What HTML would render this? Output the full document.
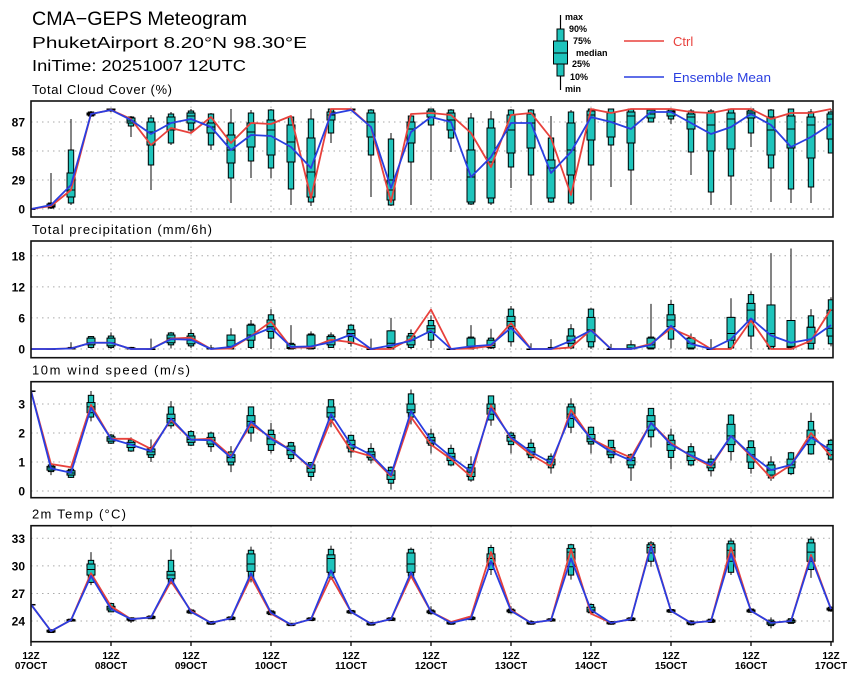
<!DOCTYPE html>
<html><head><meta charset="utf-8"><style>
html,body{margin:0;padding:0;background:#fff;}
svg{display:block;font-family:"Liberation Sans",sans-serif;}
</style></head><body>
<svg id="chart" width="860" height="680" viewBox="0 0 860 680">
<text x="32" y="25" font-size="19" textLength="215" lengthAdjust="spacingAndGlyphs">CMA−GEPS Meteogram</text>
<text x="32" y="48" font-size="16" textLength="275" lengthAdjust="spacingAndGlyphs">PhuketAirport 8.20°N 98.30°E</text>
<text x="32" y="71" font-size="16" textLength="214" lengthAdjust="spacingAndGlyphs">IniTime: 20251007 12UTC</text>
<g font-weight="bold" font-size="9">
<line x1="560.5" y1="15" x2="560.5" y2="90" stroke="#000" stroke-width="1.2"/>
<rect x="557" y="29" width="7" height="47" fill="#1fc4bc" stroke="#000"/>
<rect x="553.5" y="41" width="14" height="23" fill="#1fc4bc" stroke="#000"/>
<line x1="553.5" y1="53" x2="567.5" y2="53" stroke="#000"/>
<text x="565" y="20">max</text><text x="569" y="32">90%</text><text x="573" y="44">75%</text>
<text x="576" y="56">median</text><text x="572" y="67">25%</text><text x="570" y="80">10%</text><text x="565" y="92">min</text>
<line x1="624" y1="41" x2="664" y2="41" stroke="#e8413c" stroke-width="1.6"/>
<text x="673" y="46" font-size="13" font-weight="normal" fill="#e8413c">Ctrl</text>
<line x1="624" y1="77" x2="664" y2="77" stroke="#2a3ee0" stroke-width="1.6"/>
<text x="673" y="82" font-size="13" font-weight="normal" fill="#2a3ee0" textLength="98" lengthAdjust="spacingAndGlyphs">Ensemble Mean</text>
</g>
</svg>
<script>
const cloudCtrl=[0,3,19,95,99,90,64,81,76,92,66,86,85,93,11,100,100,82,7,95,96,94,76,42,94,96,71,14,100,96,100,100,100,97,96,100,100,90,96,96,100];
const cloudMean=[0,4,24,95,99,89,75,86,90,82,59,74,73,62,41,95,99,82,21,77,92,87,32,52,86,86,36,57,92,87,80,97,97,86,75,82,95,84,62,72,85];
const cloudBox=[[0,0,0,0,0,0,0],[0,1,2,3,5,6,36],[4,6,12,19,36,59,90],[92,93,94,95,96,97,98],[97,98,99,99,100,100,100],[72,83,86,88,91,92,93],[19,44,64,77,87,91,94],[64,66,79,86,92,95,97],[77,79,86,93,96,98,100],[59,64,76,82,86,95,96],[6,31,46,59,74,86,100],[31,48,62,77,86,96,99],[31,41,54,79,89,99,100],[4,20,47,67,84,92,92],[3,7,12,37,71,90,100],[66,76,89,94,97,100,100],[98,99,99,100,100,100,100],[12,54,72,87,96,99,100],[3,4,9,19,29,70,76],[4,47,66,80,87,93,94],[29,84,92,96,98,100,100],[57,71,79,89,96,99,100],[4,5,7,32,59,91,96],[4,6,11,47,81,90,98],[21,42,56,79,94,99,100],[4,34,61,86,95,99,100],[6,7,11,41,49,71,93],[4,6,34,59,86,97,99],[9,44,69,94,98,100,100],[22,64,72,87,96,100,100],[4,39,66,93,97,100,100],[87,87,91,95,99,100,100],[85,90,93,97,98,100,100],[34,57,80,92,95,98,100],[4,17,58,84,96,98,100],[4,33,60,90,96,100,100],[62,76,91,96,98,100,100],[7,41,54,79,92,99,100],[6,20,61,80,93,100,100],[6,22,51,84,92,97,100],[56,56,70,90,95,97,100]];
const precipCtrl=[0,0,0.1,1.2,1.2,0,0,2.0,2.2,0,0.1,2.5,5.3,0.3,0.3,1.8,1.3,0,0,2.0,7.6,0,0.1,0.6,5.0,0,0,0.3,3.7,0,0,1.0,4.0,2.3,0,0,5.5,0,0,1.6,7.7];
const precipMean=[0,0,0.1,1.2,1.2,0,0,1.9,1.8,0,0.4,2.5,4.1,0.4,0.5,1.3,2.8,0,0.7,1.6,3.5,0,0.5,0.8,4.1,0,0,1.6,3.6,0,0,0.8,4.5,1.0,0,1.9,5.9,2.6,1.2,1.9,4.6];
const precipBox=[[0,0,0,0,0,0,0],[0,0,0,0,0,0,0],[0,0,0,0.1,0.2,0.3,1.3],[0.1,0.3,0.8,1.2,2.1,2.4,2.5],[0,0.3,0.6,1.2,2.1,2.5,3.2],[0,0,0,0,0.2,0.3,0.4],[0,0,0,0,0,0,2],[0.1,0.8,1.2,2.1,2.7,3.1,3.3],[0.2,0.6,1,1.7,2.5,3,3.8],[0,0,0,0,0.1,0.2,0.8],[0,0,0.5,1.7,2.7,2.7,4],[0,0.3,1.7,2.7,4.6,4.8,5.6],[0,2.1,3.4,4.3,5.6,6.6,7.7],[0,0,0.1,0.3,0.9,1.1,4.6],[0,0,0.1,0.4,2.7,2.9,3.4],[0.2,0.3,0.8,1.7,2.4,2.7,3.2],[0.5,1.1,2.4,3,3.7,4.6,4.8],[0,0,0,0,0,0.1,2],[0,0,0.3,1.1,3.5,3.5,6],[0,0.3,0.8,1.7,2.5,3,3.8],[0.2,1.7,3.2,3.9,4.5,5.5,6.5],[0,0,0,0,0,0,0],[0,0,0.3,0.5,2.1,2.3,4.6],[0,0.2,0.3,0.7,1.7,2.1,3.9],[0.5,1.4,4.3,5.3,6.3,7.7,8.3],[0,0,0,0,0,0,1.1],[0,0,0,0,0.1,0.3,1.9],[0,0.2,1.1,1.7,2.5,3.9,4.8],[0,0.4,1.4,3.7,6.1,7.7,7.9],[0,0,0,0,0,0.1,1],[0,0,0,0.2,0.8,0.8,1.7],[0,0,0.2,0.8,2.1,2.3,8.7],[0.1,1.9,4.3,5.6,6.6,8.6,9.5],[0,0,0.2,1.1,2.1,2.2,3],[0,0,0,0,0,0.1,1.9],[0,0.2,1.7,3,6.1,6.1,9.8],[0,2.5,5.3,7.5,8.8,10.5,11.1],[0,0,0.5,3,8.5,8.5,18.5],[0,0,0.3,0.5,5.5,5.5,19.4],[0,0,1.1,4.2,4.2,6.4,7.7],[0.5,1,2.5,4,7.5,9.5,10]];
const windCtrl=[3.45,0.93,0.82,2.97,1.8,1.8,1.45,2.45,1.77,1.8,1.2,2.3,1.85,1.4,0.77,2.45,1.4,1.2,0.5,2.55,1.6,1.1,0.5,2.95,1.8,1.25,0.85,2.8,1.8,1.45,1.15,2.35,1.65,1.2,0.85,1.9,1.2,0.45,0.9,2.0,1.2];
const windMean=[3.45,0.78,0.63,2.87,1.8,1.6,1.37,2.5,1.77,1.75,1.15,2.4,1.8,1.4,0.8,2.65,1.6,1.25,0.55,2.75,1.75,1.18,0.67,2.85,1.85,1.35,0.98,2.65,1.8,1.35,1.05,2.35,1.6,1.23,0.9,1.9,1.25,0.72,0.9,1.85,1.4];
const windBox=[[3.45,3.45,3.45,3.45,3.45,3.45,3.45],[0.55,0.67,0.72,0.8,0.85,0.9,0.95],[0.45,0.47,0.55,0.62,0.7,0.75,0.78],[2.4,2.55,2.7,2.9,3.05,3.3,3.45],[1.62,1.65,1.72,1.8,1.87,1.93,1.97],[1.35,1.38,1.5,1.6,1.68,1.76,1.85],[1.0,1.16,1.25,1.35,1.45,1.5,1.78],[2.15,2.25,2.35,2.5,2.65,2.9,3.1],[1.55,1.58,1.68,1.78,1.9,2.05,2.1],[1.35,1.53,1.62,1.75,1.85,2.0,2.05],[0.65,0.9,1.0,1.15,1.25,1.35,1.55],[1.7,2.0,2.2,2.4,2.6,2.9,2.9],[1.3,1.4,1.6,1.8,1.95,2.1,2.35],[1.0,1.12,1.25,1.4,1.55,1.67,1.7],[0.35,0.5,0.65,0.78,0.9,0.98,1.0],[2.2,2.45,2.55,2.7,2.9,3.15,3.15],[1.15,1.35,1.48,1.6,1.75,1.92,1.95],[0.95,1.07,1.15,1.25,1.35,1.47,1.65],[0.05,0.27,0.4,0.55,0.7,0.82,0.85],[2.3,2.55,2.7,2.8,3.0,3.35,3.5],[1.3,1.58,1.65,1.75,1.85,1.97,2.15],[0.85,0.9,1.05,1.18,1.3,1.47,1.6],[0.32,0.38,0.5,0.65,0.8,0.92,1.2],[2.25,2.45,2.65,2.85,3.0,3.28,3.28],[1.3,1.6,1.72,1.85,1.92,2.0,2.05],[1.05,1.15,1.25,1.35,1.5,1.65,1.8],[0.6,0.8,0.9,1.0,1.1,1.2,1.3],[2.0,2.2,2.5,2.65,2.9,3.0,3.2],[1.3,1.62,1.7,1.8,1.95,2.2,2.2],[0.95,1.15,1.25,1.35,1.5,1.75,1.75],[0.35,0.8,0.9,1.05,1.15,1.25,1.3],[1.5,1.87,2.1,2.4,2.6,2.85,2.85],[0.75,1.16,1.4,1.6,1.75,1.93,2.15],[0.85,0.9,1.05,1.2,1.35,1.53,1.65],[0.5,0.7,0.8,0.9,1.0,1.1,1.25],[1.05,1.36,1.6,1.9,2.3,2.62,2.65],[0.6,0.78,1.0,1.25,1.5,1.73,1.75],[0.35,0.45,0.55,0.72,0.9,1.0,1.2],[0.55,0.6,0.8,0.9,1.1,1.32,1.35],[1.25,1.28,1.6,1.85,2.1,2.4,2.7],[1.05,1.1,1.25,1.4,1.6,1.75,1.8]];
const tempCtrl=[25.8,22.9,24.1,29.2,25.6,24.2,24.4,28.3,25.1,23.8,24.3,28.8,24.8,23.6,24.2,28.8,25.0,23.7,24.2,28.9,25.0,23.9,24.5,31.5,25.2,23.8,24.1,31.8,24.8,23.8,24.2,32.3,25.1,23.8,24.0,32.0,25.1,23.8,24.0,31.2,25.3];
const tempMean=[25.8,22.9,24.1,28.9,25.3,24.2,24.4,28.6,25.0,23.8,24.3,29.2,24.9,23.6,24.2,29.5,25.0,23.7,24.2,29.3,25.0,23.8,24.3,30.5,25.1,23.8,24.1,30.8,25.2,23.8,24.2,32.1,25.1,23.8,24.0,31.3,25.1,23.8,24.0,30.9,25.3];
const tempBox=[[25.8,25.8,25.8,25.8,25.8,25.8,25.8],[22.7,22.75,22.8,22.9,23.0,23.05,23.1],[23.9,24.0,24.0,24.1,24.15,24.2,24.3],[27.9,28.2,29.0,29.6,30.2,30.6,31.5],[25.0,25.0,25.2,25.4,25.6,25.9,26.0],[23.8,24.0,24.1,24.2,24.3,24.35,24.4],[24.2,24.25,24.3,24.4,24.5,24.55,24.6],[28.0,28.2,28.6,29.0,29.4,30.6,31.8],[24.8,24.85,24.9,25.0,25.1,25.2,25.3],[23.6,23.65,23.7,23.8,23.9,23.95,24.0],[24.1,24.15,24.2,24.3,24.4,24.45,24.5],[28.2,28.5,29.4,30.2,31.3,31.7,32.1],[24.6,24.7,24.8,24.9,25.0,25.1,25.2],[23.45,23.5,23.55,23.6,23.7,23.75,23.8],[24.0,24.05,24.1,24.2,24.3,24.35,24.4],[28.5,28.7,29.3,30.8,31.2,31.8,32.2],[24.8,24.85,24.9,25.0,25.1,25.15,25.2],[23.5,23.55,23.6,23.7,23.8,23.85,23.9],[24.0,24.05,24.1,24.2,24.3,24.35,24.4],[28.7,28.9,29.3,30.2,31.4,31.8,32.0],[24.7,24.8,24.9,25.0,25.1,25.2,25.6],[23.6,23.65,23.7,23.8,23.9,23.95,24.0],[24.1,24.15,24.2,24.3,24.4,24.45,24.5],[29.0,29.6,30.3,30.8,31.3,32.0,32.3],[24.8,24.9,25.0,25.1,25.2,25.3,25.6],[23.6,23.65,23.7,23.8,23.9,23.95,24.1],[23.9,24.0,24.0,24.1,24.2,24.25,24.3],[28.5,29.0,29.9,31.5,31.9,32.3,32.4],[24.8,24.9,25.0,25.2,25.5,25.8,25.9],[23.6,23.65,23.7,23.8,23.9,23.95,24.0],[24.0,24.05,24.1,24.2,24.3,24.35,24.4],[29.9,30.5,31.4,32.0,32.3,32.5,32.7],[24.9,24.95,25.0,25.1,25.2,25.25,25.3],[23.5,23.6,23.7,23.8,23.9,24.0,24.1],[23.8,23.85,23.9,24.0,24.1,24.2,24.3],[29.0,29.3,30.5,31.7,32.4,32.7,33.0],[24.9,24.95,25.0,25.1,25.2,25.3,25.4],[23.2,23.5,23.65,23.8,23.95,24.1,24.4],[23.7,23.75,23.85,24.0,24.1,24.25,24.3],[28.7,29.6,30.5,31.5,32.5,32.9,33.2],[25.0,25.1,25.2,25.3,25.4,25.5,25.6]];
const cloudTicks=[0,29,58,87];
const precipTicks=[0,6,12,18];
const windTicks=[0,1,2,3];
const tempTicks=[24,27,30,33];
const dayLabels=["07OCT","08OCT","09OCT","10OCT","11OCT","12OCT","13OCT","14OCT","15OCT","16OCT","17OCT"];

const NS="http://www.w3.org/2000/svg";
const svg=document.getElementById("chart");
const X0=31,X1=833,STEP=20;
function xAt(i){return X0+i*STEP;}
function mk(tag,attrs,parent){const e=document.createElementNS(NS,tag);for(const k in attrs)e.setAttribute(k,attrs[k]);(parent||svg).appendChild(e);return e;}

function panel(id,title,titleLen,top,bot,vmin,vmax,ticks,ctrl,mean,box){
  const g=mk("g",{});
  
  
  const y=v=>bot-(v-vmin)/(vmax-vmin)*(bot-top);
  const cp=mk("clipPath",{id:"clip-"+id},g);
  mk("rect",{x:X0,y:top,width:X1-X0,height:bot-top},cp);
  const t=mk("text",{x:32,y:top-7,"font-size":13,textLength:titleLen,lengthAdjust:"spacing"},g);
  t.textContent=title;
  
  
  ticks.forEach(v=>{
    const l=mk("line",{x1:X0,x2:X1,y1:y(v),y2:y(v),stroke:"#aaa","stroke-width":1,"stroke-dasharray":"1.5,4"},g);
    
    
    const tl=mk("text",{x:25,y:y(v)+4.5,"font-size":12,"font-weight":"bold","text-anchor":"end"},g);
    tl.textContent=v;
    
    
  });
  for(let d=1;d<10;d++){
    const l=mk("line",{x1:xAt(d*4),x2:xAt(d*4),y1:top,y2:bot,stroke:"#aaa","stroke-width":1,"stroke-dasharray":"1.5,4"},g);
    
    
  }
  const pg=mk("g",{"clip-path":"url(#clip-"+id+")"},g);
  box.forEach((b,i)=>{
    const bx=xAt(i);
    const bg=mk("g",{},pg);
    
    
    mk("line",{x1:bx,x2:bx,y1:y(b[0]),y2:y(b[6]),stroke:"#333","stroke-width":1.2},bg);
    mk("rect",{x:bx-2.7,y:y(b[5]),width:5.4,height:Math.max(0.5,y(b[1])-y(b[5])),fill:"#1fc4bc",stroke:"#000","stroke-width":1},bg);
    mk("rect",{x:bx-4,y:y(b[4]),width:8,height:Math.max(0.5,y(b[2])-y(b[4])),fill:"#1fc4bc",stroke:"#000","stroke-width":1},bg);
    mk("line",{x1:bx-4,x2:bx+4,y1:y(b[3]),y2:y(b[3]),stroke:"#000","stroke-width":1},bg);
  });
  const pc=mk("polyline",{points:ctrl.map((v,i)=>xAt(i)+","+y(v)).join(" "),fill:"none",stroke:"#e8413c","stroke-width":1.8,"stroke-linejoin":"round"},pg);
  
  
  const pm=mk("polyline",{points:mean.map((v,i)=>xAt(i)+","+y(v)).join(" "),fill:"none",stroke:"#2a3ee0","stroke-width":1.8,"stroke-linejoin":"round"},pg);
  
  
  const fr=mk("rect",{x:X0,y:top,width:X1-X0,height:bot-top,fill:"none",stroke:"#111","stroke-width":1.6},g);
  
  
}
panel("cloud","Total Cloud Cover (%)",140,101,217,-8,108,cloudTicks,cloudCtrl,cloudMean,cloudBox);
panel("precip","Total precipitation (mm/6h)",180,241,357.7,-1.68,20.85,precipTicks,precipCtrl,precipMean,precipBox);
panel("wind","10m wind speed (m/s)",158,381.7,497.7,-0.23,3.77,windTicks,windCtrl,windMean,windBox);
panel("temp","2m Temp (°C)",94,525.7,641.7,21.75,34.37,tempTicks,tempCtrl,tempMean,tempBox);

dayLabels.forEach((d,k)=>{
  const x=xAt(k*4);
  const tk=mk("line",{x1:x,x2:x,y1:641.7,y2:646,stroke:"#111","stroke-width":1.4});
  
  
  const t1=mk("text",{x:x,y:659,"font-size":10,"font-weight":"bold","text-anchor":"middle"});
  t1.textContent="12Z";
  
  
  const t2=mk("text",{x:x,y:669,"font-size":10,"font-weight":"bold","text-anchor":"middle"});
  t2.textContent=d;
  
  
});
</script>
</body></html>
